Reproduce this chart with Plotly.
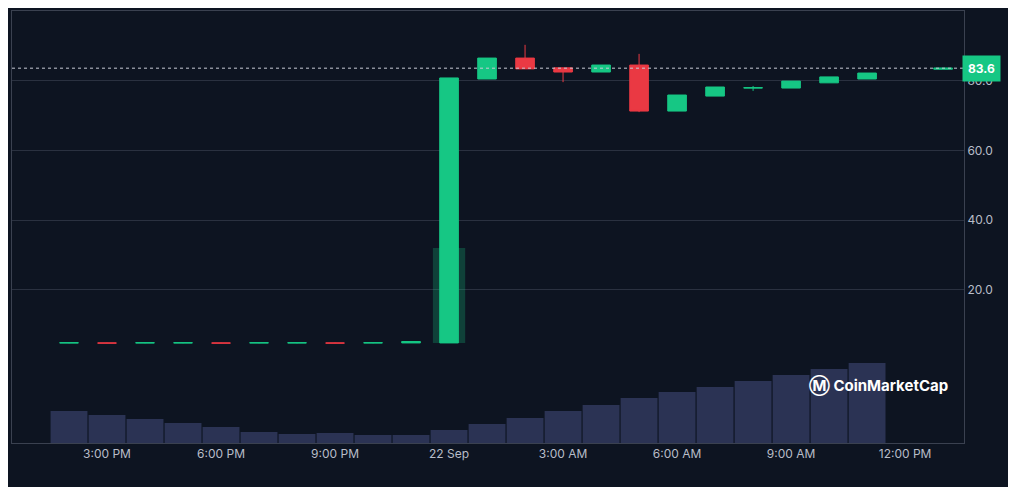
import pandas as pd
import plotly.graph_objects as go

times = pd.date_range("2024-09-21 14:00", "2024-09-22 11:00", freq="h").tolist() + [pd.Timestamp("2024-09-22 13:00")]
opens = [4.8, 4.8, 4.8, 4.8, 4.8, 4.8, 4.8, 4.8, 4.8, 4.8,
         4.8, 80.5, 86.5, 83.7, 82.5, 84.5, 71.3, 75.6, 77.9, 77.9, 79.4, 80.5, 83.3]
closes = [4.85, 4.75, 4.85, 4.85, 4.75, 4.85, 4.85, 4.75, 4.85, 5.2,
          80.8, 86.5, 83.4, 82.5, 84.5, 71.3, 75.9, 78.2, 78.0, 79.9, 81.1, 82.2, 83.6]
highs = [4.9, 4.9, 4.9, 4.9, 4.9, 4.9, 4.9, 4.9, 4.9, 5.3,
         80.8, 86.5, 90.3, 83.7, 84.5, 87.7, 75.9, 78.2, 78.5, 79.9, 81.1, 82.2, 83.6]
lows = [4.7, 4.7, 4.7, 4.7, 4.7, 4.7, 4.7, 4.7, 4.7, 4.8,
        4.8, 80.5, 83.4, 79.6, 82.5, 71.0, 71.3, 75.6, 77.1, 77.9, 79.4, 80.5, 83.3]
volume_times = times[:22]
volumes = [32, 28, 24, 20, 16, 11, 9, 10, 8, 8, 13, 19, 25, 32, 38, 45, 51, 56, 62, 68, 74, 80]
last_price = 83.6
# translucent highlight behind the breakout candle
glow_time = ["2024-09-22 00:00"]
glow_low = [4.8]
glow_high = [32.0]
tick_times = ["2024-09-21 15:00", "2024-09-21 18:00", "2024-09-21 21:00", "2024-09-22 00:00",
              "2024-09-22 03:00", "2024-09-22 06:00", "2024-09-22 09:00", "2024-09-22 12:00"]
tick_labels = ["3:00 PM", "6:00 PM", "9:00 PM", "22 Sep", "3:00 AM", "6:00 AM", "9:00 AM", "12:00 PM"]

BG = "#0d1421"
GREEN = "#16c784"
RED = "#ea3943"
GRID = "#2a3140"

fig = go.Figure()
fig.add_trace(go.Bar(x=volume_times, y=volumes, yaxis="y2", marker_color="#2b3354",
                     marker_line_width=0, width=3600 * 1000 * 0.97, hoverinfo="skip"))
fig.add_trace(go.Bar(x=glow_time, y=[glow_high[0] - glow_low[0]], base=glow_low,
                     marker_color="rgba(22,199,132,0.25)", marker_line_width=0,
                     width=3600 * 1000 * 0.85, hoverinfo="skip"))
fig.add_trace(go.Candlestick(x=times, open=opens, high=highs, low=lows, close=closes,
                             increasing=dict(line=dict(color=GREEN, width=1), fillcolor=GREEN),
                             decreasing=dict(line=dict(color=RED, width=1), fillcolor=RED),
                             whiskerwidth=0))
fig.add_hline(y=last_price, line=dict(color="#c8ccd6", width=1, dash="dot"))
fig.add_annotation(x=1, xref="paper", xanchor="left", y=last_price, yref="y", text=f"<b>{last_price}</b>",
                   showarrow=False, bgcolor=GREEN, font=dict(color="white", size=12),
                   borderpad=5, xshift=-2)
fig.add_annotation(x=0.985, xref="paper", y=0.105, yref="paper", xanchor="right",
                   text="<b>Ⓜ CoinMarketCap</b>", showarrow=False,
                   font=dict(color="white", size=15))

fig.update_layout(
    width=1008, height=479, paper_bgcolor=BG, plot_bgcolor=BG,
    margin=dict(l=4, r=52, t=3, b=44, autoexpand=False), showlegend=False,
    font=dict(family="Inter", color="#b8bdc8", size=12), barmode="overlay",
    xaxis=dict(type="date", range=["2024-09-21 12:30", "2024-09-22 13:33"],
               tickvals=tick_times, ticktext=tick_labels, showgrid=False,
               rangeslider=dict(visible=False), showline=True, linecolor="#3a4150",
               mirror=True, ticks="", zeroline=False),
    yaxis=dict(side="right", range=[-23.9, 100], tickvals=[20, 40, 60, 80],
               ticktext=["20.0", "40.0", "60.0", "80.0"], gridcolor=GRID, zeroline=False,
               showline=True, linecolor="#3a4150", mirror=True, ticks=""),
    yaxis2=dict(overlaying="y", range=[0, 432], visible=False),
)
fig.write_html("out.html")
